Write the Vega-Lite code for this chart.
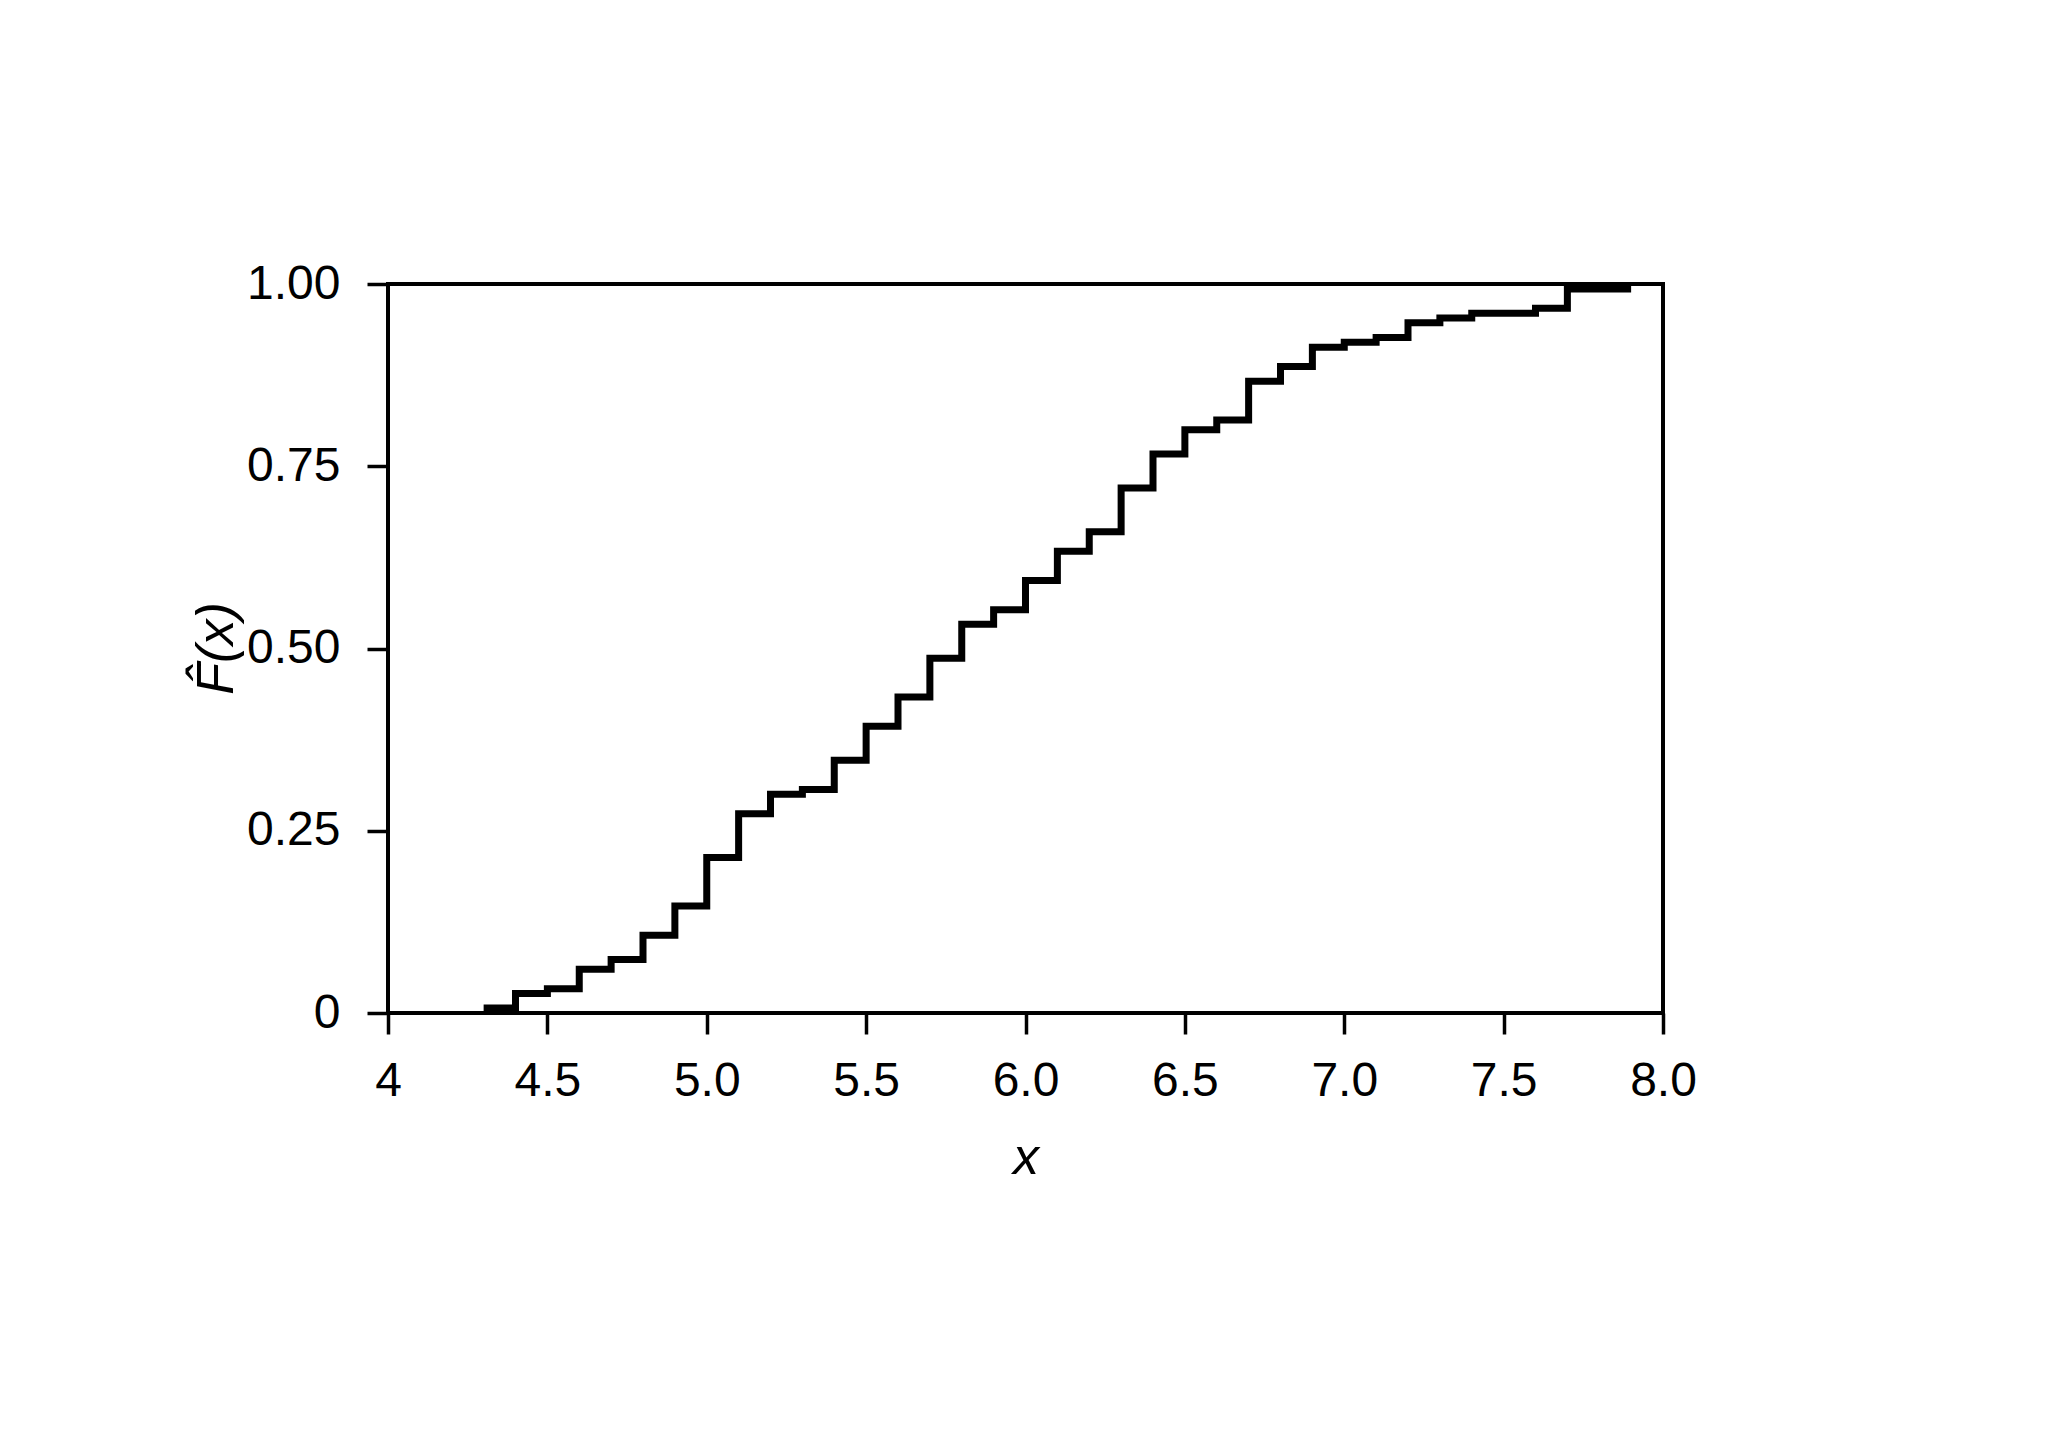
{
  "$schema": "https://vega.github.io/schema/vega-lite/v6.json",
  "width": 1275,
  "height": 729,
  "autosize": {"type": "none"},
  "padding": {"left": 388, "top": 284, "right": 385, "bottom": 434},
  "background": "white",
  "config": {
    "view": {"stroke": "black", "strokeWidth": 4},
    "font": "Liberation Sans",
    "axis": {
      "grid": false,
      "domain": false,
      "ticks": true,
      "tickSize": 21,
      "tickWidth": 3.5,
      "tickColor": "black",
      "labelFont": "Liberation Sans",
      "labelFontSize": 48,
      "labelColor": "black",
      "titleFont": "Liberation Sans",
      "titleFontSize": 52,
      "titleFontWeight": "normal",
      "titleFontStyle": "italic",
      "titleColor": "black"
    }
  },
  "data": {
    "values": [
      {"x": 4.3, "F": 0.0067},
      {"x": 4.4, "F": 0.0267},
      {"x": 4.5, "F": 0.0333},
      {"x": 4.6, "F": 0.06},
      {"x": 4.7, "F": 0.0733},
      {"x": 4.8, "F": 0.1067},
      {"x": 4.9, "F": 0.1467},
      {"x": 5.0, "F": 0.2133},
      {"x": 5.1, "F": 0.2733},
      {"x": 5.2, "F": 0.3},
      {"x": 5.3, "F": 0.3067},
      {"x": 5.4, "F": 0.3467},
      {"x": 5.5, "F": 0.3933},
      {"x": 5.6, "F": 0.4333},
      {"x": 5.7, "F": 0.4867},
      {"x": 5.8, "F": 0.5333},
      {"x": 5.9, "F": 0.5533},
      {"x": 6.0, "F": 0.5933},
      {"x": 6.1, "F": 0.6333},
      {"x": 6.2, "F": 0.66},
      {"x": 6.3, "F": 0.72},
      {"x": 6.4, "F": 0.7667},
      {"x": 6.5, "F": 0.8},
      {"x": 6.6, "F": 0.8133},
      {"x": 6.7, "F": 0.8667},
      {"x": 6.8, "F": 0.8867},
      {"x": 6.9, "F": 0.9133},
      {"x": 7.0, "F": 0.92},
      {"x": 7.1, "F": 0.9267},
      {"x": 7.2, "F": 0.9467},
      {"x": 7.3, "F": 0.9533},
      {"x": 7.4, "F": 0.96},
      {"x": 7.6, "F": 0.9667},
      {"x": 7.7, "F": 0.9933},
      {"x": 7.9, "F": 0.9933}
    ]
  },
  "mark": {
    "type": "line",
    "interpolate": "step-after",
    "color": "black",
    "strokeWidth": 7,
    "strokeCap": "butt",
    "strokeJoin": "miter",
    "clip": false
  },
  "encoding": {
    "x": {
      "field": "x",
      "type": "quantitative",
      "scale": {"domain": [4, 8], "nice": false, "zero": false},
      "axis": {
        "values": [4, 4.5, 5, 5.5, 6, 6.5, 7, 7.5, 8],
        "labelExpr": "datum.value == 4 ? '4' : format(datum.value, '.1f')",
        "labelPadding": 23,
        "labelFlush": false,
        "labelOverlap": false,
        "title": "x",
        "titleAnchor": "middle",
        "titleBaseline": "alphabetic",
        "titleY": 160
      }
    },
    "y": {
      "field": "F",
      "type": "quantitative",
      "scale": {"domain": [0, 1], "nice": false},
      "axis": {
        "values": [0, 0.25, 0.5, 0.75, 1],
        "labelExpr": "datum.value == 0 ? '0' : format(datum.value, '.2f')",
        "labelPadding": 27,
        "labelFlush": false,
        "labelOverlap": false,
        "title": "F̂(x)",
        "titleAngle": 270,
        "titleAlign": "center",
        "titleBaseline": "alphabetic",
        "titleX": -156,
        "titleY": 364
      }
    }
  }
}
